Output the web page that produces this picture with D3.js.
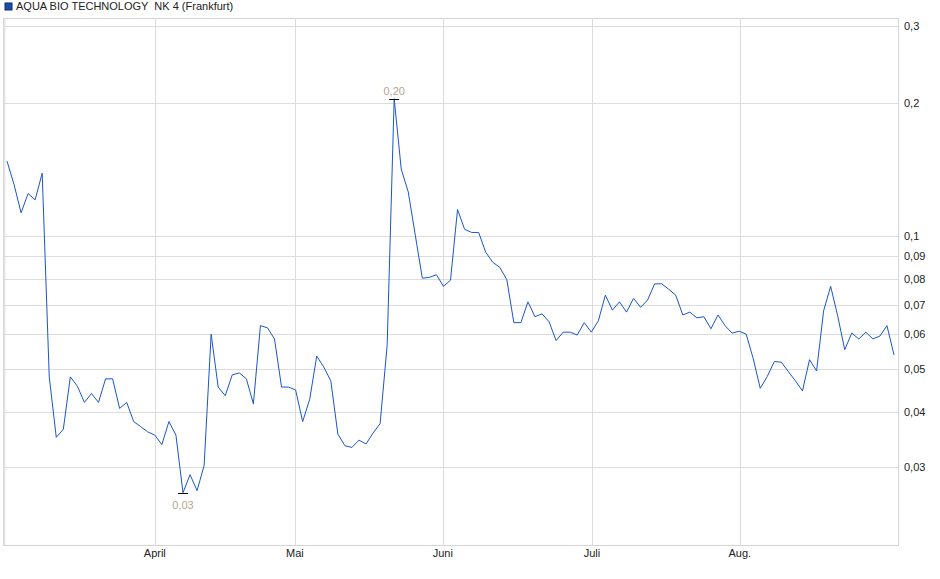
<!DOCTYPE html><html><head><meta charset="utf-8"><script src="https://cdn.jsdelivr.net/npm/d3@7"></script>
<style>body{margin:0;background:#fff}svg{font-family:"Liberation Sans",Arial,sans-serif}</style></head><body><svg id="c" width="940" height="579"></svg>
<script>
const title = "AQUA BIO TECHNOLOGY  NK 4 (Frankfurt)";
const prices = [0.148,0.131,0.113,0.125,0.121,0.139,0.048,0.035,0.0365,0.048,0.0457,0.042,0.044,0.042,0.0475,0.0475,0.0407,0.042,0.038,0.037,0.036,0.0354,0.0337,0.038,0.0354,0.0262,0.0288,0.0265,0.0302,0.06,0.0455,0.0435,0.0485,0.049,0.0475,0.0417,0.0627,0.062,0.0585,0.0455,0.0455,0.0448,
0.038,0.0427,0.0535,0.0505,0.047,0.0356,0.0335,0.0332,0.0345,0.0338,0.0358,0.0376,0.0565,
0.205,0.142,0.126,0.1005,0.0803,0.0807,0.0818,0.077,0.0795,0.115,0.1037,0.102,0.102,0.092,0.0873,0.085,0.0797,0.0637,0.0637,0.071,0.0657,0.0667,0.064,0.058,0.0606,0.0606,0.0597,0.0637,0.0606,
0.0643,0.0735,0.068,0.071,0.0673,0.0723,0.069,0.0717,0.078,0.078,0.0758,0.0735,0.0663,0.0673,0.0653,0.0657,0.0617,0.0663,0.0627,0.0603,0.0609,0.06,0.0528,0.0452,0.0481,0.052,0.0518,0.0493,0.047,0.0446,0.0525,0.0495,0.0677,0.077,0.066,0.0553,0.0603,0.0585,0.0606,0.0585,0.0594,0.0627,0.0538];
const yTicks = [0.03,0.04,0.05,0.06,0.07,0.08,0.09,0.1,0.2,0.3];
const monthLabels = ["April","Mai","Juni","Juli","Aug."];
const monthIdx = [21.0,40.9,61.9,83.1,104.1];

const svg = d3.select("#c");
const L=3,R=898,T=18,B=545;
const x = d3.scaleLinear().domain([0,prices.length-1]).range([7,894]);
const y = d3.scaleLog().domain([0.01995,0.3125]).range([B,T]);
const fmt = v => String(v).replace(".",",");

svg.append("rect").attr("x",L+0.5).attr("y",T+0.5).attr("width",R-L).attr("height",B-T).attr("fill","none").attr("stroke","#d4d4d4");
svg.append("g").selectAll("line").data(yTicks).join("line")
 .attr("x1",L).attr("x2",R).attr("y1",d=>Math.round(y(d))+0.5).attr("y2",d=>Math.round(y(d))+0.5).attr("stroke","#dcdcdc");
svg.append("line").attr("x1",x(-0.3)).attr("x2",x(-0.3)).attr("y1",T).attr("y2",B).attr("stroke","#dcdcdc");
svg.append("g").selectAll("line").data(monthIdx).join("line")
 .attr("x1",d=>Math.round(x(d))+0.5).attr("x2",d=>Math.round(x(d))+0.5).attr("y1",T).attr("y2",B).attr("stroke","#dcdcdc");
svg.append("g").selectAll("text").data(yTicks).join("text")
 .attr("x",904).attr("y",d=>y(d)+4).attr("font-size",11).attr("fill","#222").text(fmt);
svg.append("g").selectAll("text").data(monthIdx).join("text")
 .attr("x",d=>x(d)).attr("y",557).attr("text-anchor","middle").attr("font-size",11).attr("fill","#222").text((d,i)=>monthLabels[i]);

svg.append("path").datum(prices).attr("fill","none").attr("stroke","#1a56c8").attr("stroke-width",1)
 .attr("d",d3.line().x((d,i)=>x(i)).y(d=>y(d)));

const iMax = d3.maxIndex(prices), iMin = d3.minIndex(prices);
[[iMax,-1,"0,20"],[iMin,1,"0,03"]].forEach(([i,dir,lab])=>{
  const px=x(i), py=Math.round(y(prices[i]))+0.5;
  svg.append("line").attr("x1",px-5).attr("x2",px+5).attr("y1",py).attr("y2",py).attr("stroke","#000");
  svg.append("text").attr("x",px).attr("y",dir<0?py-5:py+15).attr("text-anchor","middle").attr("font-size",11).attr("fill","#b5a58f").text(lab);
});

svg.append("rect").attr("x",5).attr("y",3).attr("width",7).attr("height",7).attr("fill","#1a4fa8").attr("stroke","#0a2a70");
svg.append("text").attr("x",16).attr("y",10).attr("font-size",11).attr("fill","#222").style("white-space","pre").text(title);
</script></body></html>
